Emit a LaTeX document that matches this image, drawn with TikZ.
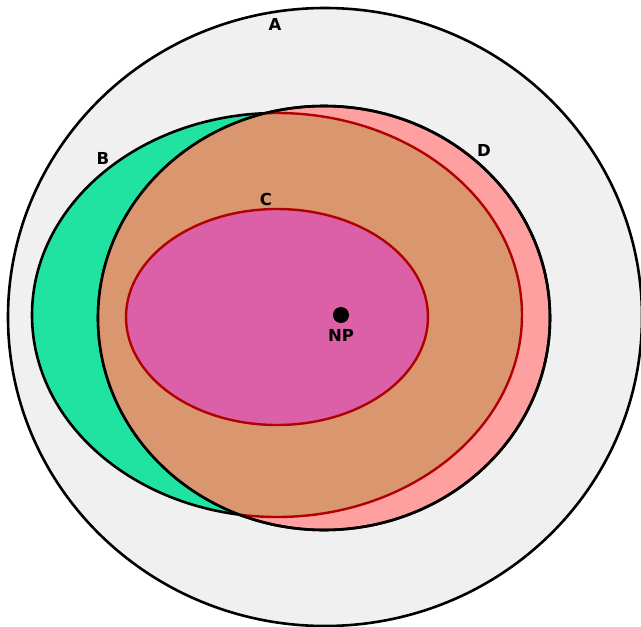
\documentclass[tikz,border=0pt]{standalone}
\usepackage{fontspec}
\setmainfont{DejaVu Sans}
\usepackage{tikz}
\usetikzlibrary{positioning}
\definecolor{setgray}{RGB}{240,240,240}
\definecolor{setgreen}{RGB}{32,227,162}
\definecolor{setpink}{RGB}{255,160,160}
\definecolor{setorange}{RGB}{217,150,111}
\definecolor{setmagenta}{RGB}{219,96,168}
\definecolor{setred}{RGB}{176,0,0}
\tikzset{setline/.style={draw=black, line width=2.6pt}, subline/.style={draw=setred, line width=2.4pt}, setlabel/.style={font=\fontsize{16.5}{19}\selectfont\bfseries, inner sep=0pt}, npdot/.style={circle, fill=black, inner sep=0pt, minimum size=16pt}}

\begin{document}
\begin{tikzpicture}[x=1pt, y=-1pt]
\useasboundingbox (0,0) rectangle (641,627);
\clip (0,0) rectangle (641,627);
\fill[white] (0,0) rectangle (641,627);
% outer set A
\filldraw[setline, fill=setgray] (325,317) ellipse [x radius=317, y radius=309];
% B and D
\filldraw[setline, fill=setgreen] (277,315) ellipse [x radius=245, y radius=202];
\filldraw[setline, fill=setpink] (324,318) ellipse [x radius=226, y radius=212];
\begin{scope}
\clip (324,318) ellipse [x radius=226, y radius=212];
\filldraw[subline, fill=setorange] (277,315) ellipse [x radius=245, y radius=202];
\end{scope}
\draw[setline] (324,318) ellipse [x radius=226, y radius=212];
% inner set C
\filldraw[subline, fill=setmagenta] (277,317) ellipse [x radius=151, y radius=108];
\node[npdot] (np) at (341,315) {};
\node[setlabel, below=6pt of np] (nplabel) {NP};
\node[setlabel] (labelA) at (275,24) {A};
\node[setlabel] (labelB) at (103,158) {B};
\node[setlabel] (labelC) at (266,199) {C};
\node[setlabel] (labelD) at (484,150) {D};
\end{tikzpicture}
\end{document}
